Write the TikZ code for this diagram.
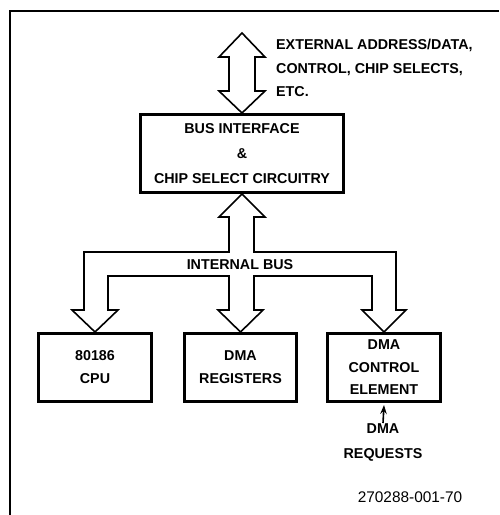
\documentclass[tikz,border=0pt]{standalone}
\usepackage{fontspec}
\setmainfont{Liberation Sans}
\usetikzlibrary{arrows.meta}
\begin{document}
\begin{tikzpicture}[x=1pt,y=-1pt,
  lbl/.style={font=\bfseries\fontsize{14.3}{24}\selectfont, inner sep=0pt, align=center},
  box/.style={draw, line width=2.6pt, minimum width=#1, minimum height=68.4pt, inner sep=0pt, align=center, font=\bfseries\fontsize{14.3}{23}\selectfont},
  bus/.style={draw, line width=1.6pt, line join=miter},
  frame/.style={draw, line width=2pt}]
\useasboundingbox (0,0) rectangle (499,515);
\draw[frame] (499,11) -- (10,11) -- (10,515);

\node[box=203.4, minimum height=78.4pt, font=\bfseries\fontsize{14.3}{25}\selectfont] (bif) at (242,153.5) {BUS INTERFACE\\\&\\CHIP SELECT CIRCUITRY};
\node[box=113.4] (cpu) at (95,367.5) {80186\\CPU};
\node[box=112.4] (reg) at (240.5,367.5) {DMA\\REGISTERS};
\node[box=113.4, font=\bfseries\fontsize{14.3}{22.5}\selectfont] (dmac) at (384,367.5) {DMA\\CONTROL\\ELEMENT};

\node[lbl, align=left, anchor=west, font=\bfseries\fontsize{14.3}{23.5}\selectfont] (ext) at (276,68) {EXTERNAL ADDRESS/DATA,\\CONTROL, CHIP SELECTS,\\ETC.};
\node[lbl] (ib) at (240,265) {INTERNAL BUS};
\node[lbl, font=\bfseries\fontsize{14.3}{25}\selectfont, anchor=north] (req) at (383,423) {DMA\\REQUESTS};
\node[inner sep=0pt, font=\fontsize{15.4}{18}\selectfont] (fig) at (410,497) {270288-001-70};

% external double arrow
\draw[bus] (bif.north) -- (219,91) -- (229,91) -- (229,57) -- (219,57) -- (242,33)
  -- (265,57) -- (255,57) -- (255,91) -- (265,91) -- cycle;

% internal bus
\draw[bus] (bif.south) -- (265,217) -- (254,217) -- (254,252) -- (396,252) -- (396,310)
  -- (406,310) -- (dmac.north) -- (362,310) -- (372,310) -- (372,276) -- (254,276)
  -- (254,310) -- (263,310) -- (reg.north) -- (218,310) -- (229,310) -- (229,276)
  -- (108,276) -- (108,310) -- (118,310) -- (cpu.north) -- (72,310) -- (84,310)
  -- (84,252) -- (229,252) -- (229,217) -- (219,217) -- cycle;

% DMA requests arrow
\draw[line width=1.6pt, -{Stealth[length=9pt,width=6.5pt]}] (req.north) -- ([yshift=-2pt]dmac.south);
\end{tikzpicture}
\end{document}
